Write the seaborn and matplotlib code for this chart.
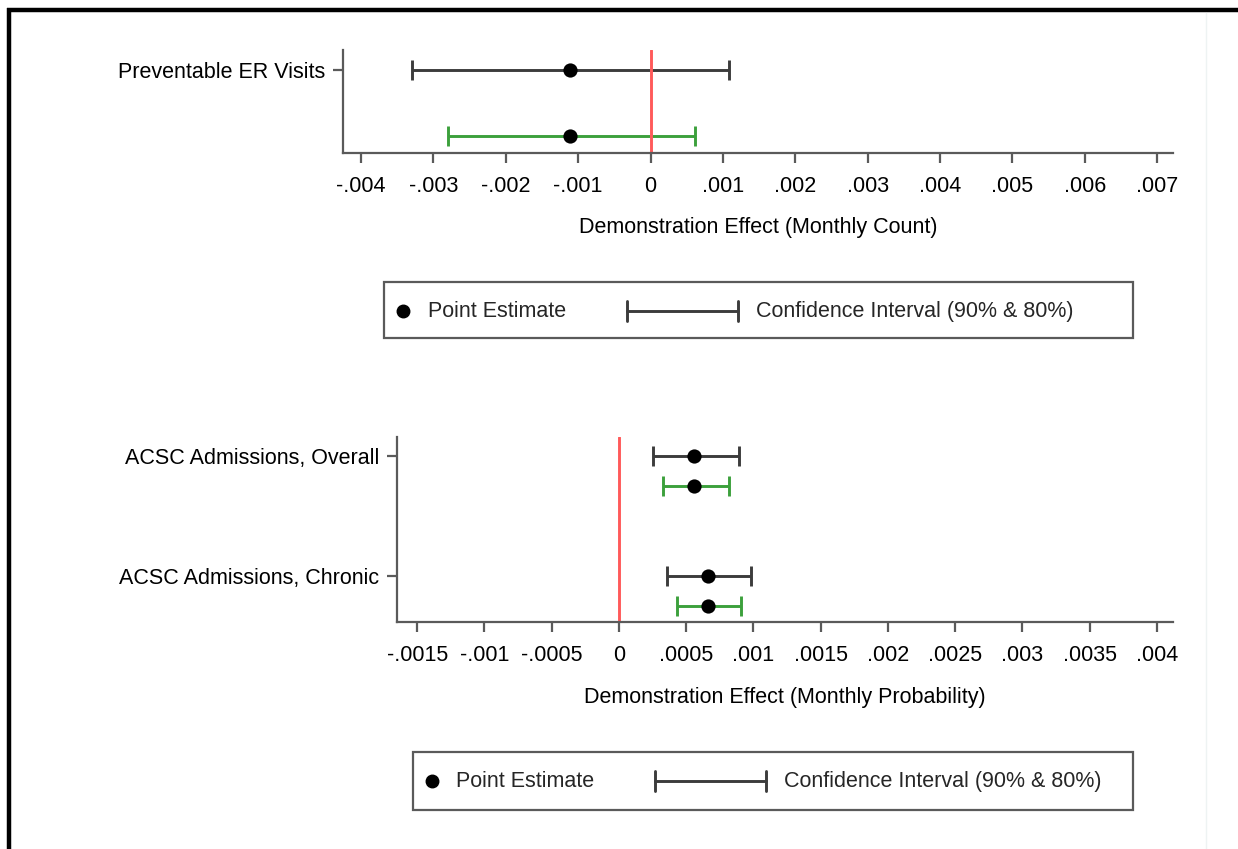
import numpy as np
import pandas as pd
import matplotlib
matplotlib.use("Agg")
import matplotlib.pyplot as plt
import seaborn as sns
from matplotlib.lines import Line2D
from matplotlib.patches import Rectangle

# ---------------- data ----------------
top_outcomes = ["Preventable ER Visits"]
top_point = [-0.00111]
top_ci90_lo = [-0.00329]
top_ci90_hi = [0.00109]
top_ci80_lo = [-0.00280]
top_ci80_hi = [0.00061]
top_xticks = [-0.004, -0.003, -0.002, -0.001, 0.0, 0.001, 0.002, 0.003, 0.004, 0.005, 0.006, 0.007]
top_xticklabels = ["-.004", "-.003", "-.002", "-.001", "0", ".001", ".002", ".003", ".004", ".005", ".006", ".007"]
top_xlabel = "Demonstration Effect (Monthly Count)"

bot_outcomes = ["ACSC Admissions, Overall", "ACSC Admissions, Chronic"]
bot_point = [0.00056, 0.00066]
bot_ci90_lo = [0.00025, 0.00036]
bot_ci90_hi = [0.00089, 0.00098]
bot_ci80_lo = [0.00033, 0.00043]
bot_ci80_hi = [0.00082, 0.00091]
bot_xticks = [-0.0015, -0.001, -0.0005, 0.0, 0.0005, 0.001, 0.0015, 0.002, 0.0025, 0.003, 0.0035, 0.004]
bot_xticklabels = ["-.0015", "-.001", "-.0005", "0", ".0005", ".001", ".0015", ".002", ".0025", ".003", ".0035", ".004"]
bot_xlabel = "Demonstration Effect (Monthly Probability)"

legend_labels = ["Point Estimate", "Confidence Interval (90% & 80%)"]

# ---------------- style ----------------
sns.set_theme(style="ticks")
plt.rcParams["font.family"] = ["Liberation Sans", "DejaVu Sans"]
FS = 15.5
SPINE = "#5a5a5a"
CI90 = "#3c3c3c"
CI80 = "#3ca03c"
RED = "#ff5a5a"
LW = 2.1

W, H = 1238, 849
fig = plt.figure(figsize=(W / 100, H / 100), dpi=100)
fig.patch.set_facecolor("white")


def fx(x):
    return x / W


def fy(y):
    return 1 - y / H


def axes_px(left, top, right, bottom):
    return fig.add_axes([fx(left), fy(bottom), (right - left) / W, (bottom - top) / H])


def draw_panel(ax, outcomes, pt, lo90, hi90, lo80, hi80, xticks, xticklabels,
               xlim, ylim, xlabel, label_y):
    rows = []
    for i, name in enumerate(outcomes):
        rows.append(dict(outcome=name, level="90%", y=4 * i, est=pt[i], lo=lo90[i], hi=hi90[i]))
        rows.append(dict(outcome=name, level="80%", y=4 * i + 1, est=pt[i], lo=lo80[i], hi=hi80[i]))
    df = pd.DataFrame(rows)
    for lvl, col in [("90%", CI90), ("80%", CI80)]:
        d = df[df.level == lvl]
        ax.errorbar(d.est, d.y, xerr=[d.est - d.lo, d.hi - d.est], fmt="none",
                    ecolor=col, elinewidth=LW, capsize=7.2, capthick=LW, zorder=2)
    ax.axvline(0, color=RED, lw=LW, zorder=2.5)
    sns.scatterplot(data=df, x="est", y="y", color="black", s=105, linewidth=0,
                    zorder=3, ax=ax, legend=False)
    ax.set_xlim(*xlim)
    ax.set_ylim(*ylim)
    ax.set_xticks(xticks)
    ax.set_xticklabels(xticklabels)
    ax.set_yticks([4 * i for i in range(len(outcomes))])
    ax.set_yticklabels(outcomes)
    ax.set_ylabel("")
    ax.set_xlabel(xlabel, fontsize=FS, color="black")
    ax.xaxis.set_label_coords(0.5, label_y)
    ax.xaxis.label.set_va("center")
    sns.despine(ax=ax)
    for s in ["left", "bottom"]:
        ax.spines[s].set_color(SPINE)
        ax.spines[s].set_linewidth(1.6)
    ax.tick_params(axis="both", colors=SPINE, labelcolor="black", labelsize=FS,
                   length=7, width=1.6)
    ax.tick_params(axis="x", pad=9.5)
    ax.tick_params(axis="y", pad=6)
    ax.set_facecolor("white")
    ax.grid(False)


def draw_legend(box, y, dot_x, txt1_x, ci_x0, ci_x1, txt2_x):
    l, t, r, b = box
    fig.add_artist(Rectangle((fx(l), fy(b)), (r - l) / W, (b - t) / H, transform=fig.transFigure,
                             facecolor="white", edgecolor=SPINE, lw=1.6))
    fig.add_artist(Line2D([fx(dot_x)], [fy(y)], marker="o", markersize=9, color="black",
                          linestyle="none", transform=fig.transFigure))
    fig.text(fx(txt1_x), fy(y + 6), legend_labels[0], fontsize=FS, va="baseline", ha="left")
    fig.add_artist(Line2D([fx(ci_x0), fx(ci_x1)], [fy(y), fy(y)], color=CI90, lw=LW,
                          transform=fig.transFigure))
    for cx in (ci_x0, ci_x1):
        fig.add_artist(Line2D([fx(cx), fx(cx)], [fy(y - 10), fy(y + 10)], color=CI90, lw=LW,
                              transform=fig.transFigure))
    fig.text(fx(txt2_x), fy(y + 6), legend_labels[1], fontsize=FS, va="baseline", ha="left")


# top panel
ax1 = axes_px(343, 50, 1173, 153)
draw_panel(ax1, top_outcomes, top_point, top_ci90_lo, top_ci90_hi, top_ci80_lo, top_ci80_hi,
           top_xticks, top_xticklabels, (-0.00425, 0.00722), (1.258, -0.303),
           top_xlabel, -(227 - 153) / 103)
draw_legend((384, 282, 1133, 338), 311, 403, 428, 627, 738, 756)

# bottom panel
ax2 = axes_px(397, 437, 1173, 622)
draw_panel(ax2, bot_outcomes, bot_point, bot_ci90_lo, bot_ci90_hi, bot_ci80_lo, bot_ci80_hi,
           bot_xticks, bot_xticklabels, (-0.00165, 0.00412), (5.533, -0.633),
           bot_xlabel, -(698 - 622) / 185)
draw_legend((413, 752, 1133, 810), 781, 432, 456, 655, 766, 784)

# frame lines (black border top & left, faint right separator)
fig.add_artist(Line2D([fx(7), 1.0], [fy(10), fy(10)], color="black", lw=3.2,
                      transform=fig.transFigure, solid_capstyle="butt"))
fig.add_artist(Line2D([fx(9), fx(9)], [fy(8), 0.0], color="black", lw=3.2,
                      transform=fig.transFigure, solid_capstyle="butt"))
fig.add_artist(Line2D([fx(1206), fx(1206)], [fy(13), 0.0], color="#eef3f3", lw=1,
                      transform=fig.transFigure))

fig.savefig("out.png", dpi=100, facecolor="white")
